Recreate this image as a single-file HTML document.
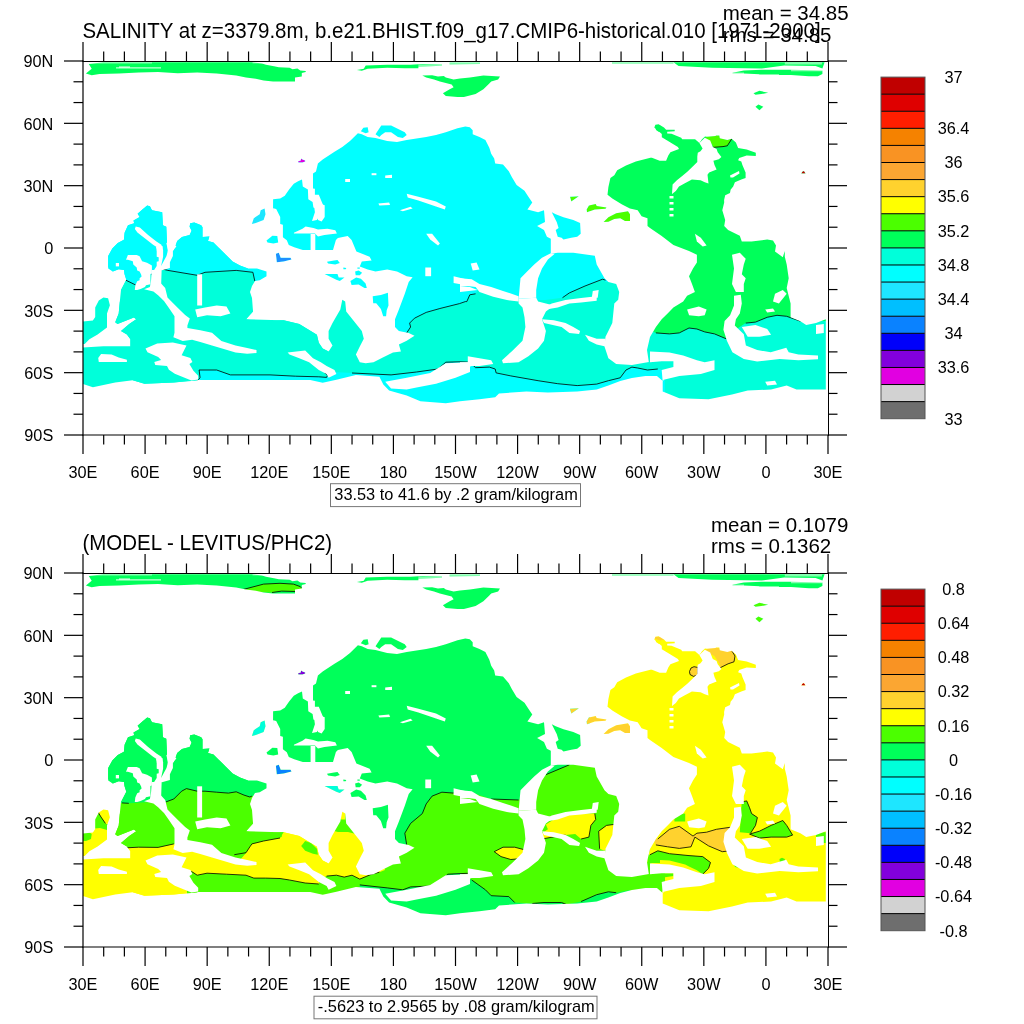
<!DOCTYPE html>
<html><head><meta charset="utf-8"><title>Salinity</title>
<style>html,body{margin:0;padding:0;background:#fff;width:1024px;height:1024px;overflow:hidden}svg{display:block;will-change:transform}</style>
</head><body>
<svg width="1024" height="1024" viewBox="0 0 1024 1024">
<rect width="1024" height="1024" fill="#fff"/>
<defs>
<mask id="ocean" maskUnits="userSpaceOnUse" x="0" y="0" width="1024" height="1024"><rect x="0" y="0" width="1024" height="1024" fill="#000"/><polygon points="85.9,73.6 91.7,68.7 88.8,63.9 103.4,62.3 252.0,62.3 262.0,63.5 266.0,64.8 274.0,66.3 278.8,67.2 289.6,67.7 292.5,69.2 297.4,68.5 300.3,70.6 305.7,71.1 305.7,72.1 301.8,73.1 301.8,76.5 295.0,77.5 295.0,81.4 273.0,81.4 263.6,80.5 255.8,78.7 246.0,77.6 236.2,75.5 216.7,73.6 197.2,72.6 177.7,73.2 158.0,72.0 138.6,72.6 119.0,73.6 99.5,74.0 91.7,75.2" fill="#fff"/><polygon points="356.9,70.1 363.8,68.7 365.7,65.4 387.2,64.8 410.6,64.8 422.3,63.9 441.9,64.2 441.9,65.8 418.4,66.8 418.4,68.2 404.8,68.2 387.2,67.8 367.7,68.7 361.8,70.7" fill="#fff"/><polygon points="449.7,62.5 480.0,62.5 480.0,64.0 449.7,64.5" fill="#fff"/><polygon points="422.3,75.6 432.1,75.2 438.0,76.6 443.8,76.0 445.8,77.5 453.6,79.5 460.0,78.5 470.0,77.5 483.4,75.6 500.0,76.6 498.1,79.5 491.2,81.4 489.3,83.4 483.4,89.2 475.6,94.1 463.9,97.0 457.5,97.0 445.8,96.1 442.9,93.2 449.7,89.2 453.6,87.3 451.6,84.4 439.9,81.4 434.0,79.5 426.2,77.5" fill="#fff"/><polygon points="673.4,62.3 824.6,62.3 822.4,68.4 815.6,66.1 784.2,65.5 761.7,68.6 712.3,67.7 678.6,66.1" fill="#fff"/><polygon points="732.5,72.8 743.8,70.6 761.7,69.8 791.0,69.8 822.4,70.6 822.4,74.0 817.9,76.2 808.9,76.2 791.0,75.1 759.5,75.1 759.5,74.2 743.8,73.6 732.5,73.6" fill="#fff"/><polygon points="612.0,62.2 673.4,62.2 673.4,63.4 612.0,63.4" fill="#fff"/><polygon points="753.5,93.2 759.4,90.8 768.2,92.8 761.3,94.1 755.5,94.7" fill="#fff"/><polygon points="755.5,106.8 758.4,104.5 763.3,106.8 759.4,110.3" fill="#fff"/><polygon points="273.0,214.0 273.1,199.3 280.2,198.5 284.8,195.8 289.1,189.5 293.8,183.7 298.1,181.3 302.0,179.4 302.8,186.4 307.9,189.5 308.3,199.3 312.6,202.0 313.4,207.5 317.7,209.1 318.0,220.0 321.6,221.6 324.7,217.0 324.7,205.2 320.0,203.6 314.9,199.7 314.9,188.8 313.0,188.4 313.0,173.5 316.0,171.6 317.9,163.5 322.7,159.6 334.5,151.8 342.3,146.9 350.0,141.0 357.9,133.2 361.8,134.2 367.7,137.1 375.5,138.1 387.2,141.0 397.0,142.0 406.7,140.0 426.2,137.1 436.0,135.1 445.8,132.2 457.5,128.3 465.3,126.4 469.8,127.3 472.7,130.3 472.7,134.2 479.5,137.1 485.4,140.0 489.3,147.8 491.2,153.7 494.2,158.6 495.2,163.5 503.0,164.4 508.8,171.3 511.8,177.1 516.6,185.0 524.5,190.8 528.4,196.7 532.3,202.5 527.4,209.4 538.1,212.3 544.0,210.3 545.0,222.0 537.1,226.0 544.0,229.9 546.9,236.7 550.8,238.7 550.8,253.8 557.7,252.8 573.3,252.8 594.8,255.7 596.7,264.5 604.5,278.2 608.4,282.1 616.2,284.0 619.2,291.9 618.2,299.7 614.3,303.6 612.3,323.1 608.4,330.9 605.5,336.8 604.5,346.6 608.4,358.3 616.2,364.1 631.9,365.1 647.5,362.2 661.2,360.2 663.0,372.0 660.0,376.0 645.5,376.0 631.9,378.0 620.2,381.0 608.4,385.6 596.7,389.5 577.2,391.5 547.9,392.5 526.4,391.5 499.0,393.4 495.2,397.3 479.5,399.3 460.0,401.2 445.8,403.2 420.4,401.2 406.7,395.4 389.1,390.5 383.3,384.6 379.4,376.8 355.9,374.9 336.4,379.8 322.7,382.7 309.1,379.8 289.5,379.8 270.0,379.8 246.0,379.8 228.4,376.8 216.7,375.9 200.1,377.8 197.2,380.5 173.8,382.6 144.5,383.8 132.7,380.2 115.2,382.6 92.9,387.3 83.0,384.0 83.0,347.4 103.4,346.3 130.4,346.3 130.4,339.2 126.9,334.5 121.0,331.0 129.2,324.0 136.2,319.3 133.9,317.5 117.5,324.0 115.2,322.2 118.7,313.4 119.8,301.7 121.0,290.0 126.3,279.8 124.5,274.0 124.0,269.9 118.7,269.3 112.8,271.6 108.1,267.0 108.2,256.0 112.3,248.5 117.8,243.1 123.9,239.7 124.6,232.8 128.0,225.3 134.2,223.2 133.5,220.5 139.7,217.1 137.6,213.7 142.4,209.6 147.2,205.5 149.9,206.2 152.0,210.3 162.2,212.3 162.9,225.3 166.3,226.7 167.0,242.4 167.7,252.0 168.4,252.0 173.8,250.6 177.2,241.0 182.0,236.9 189.6,234.9 191.6,230.8 189.6,226.7 190.2,223.2 194.3,222.6 201.2,225.3 202.5,227.3 202.5,236.9 209.4,236.6 208.0,241.0 213.5,242.4 219.0,247.9 225.8,254.7 232.6,261.5 240.0,265.6 248.0,268.5 257.0,268.5 266.5,271.4 266.5,276.2 259.7,280.2 255.0,281.1 252.0,286.0 250.0,292.0 252.0,298.0 253.0,311.4 246.0,319.2 256.0,321.2 268.0,321.2 280.0,320.2 283.7,320.2 299.3,324.1 316.9,334.8 318.8,342.7 322.7,348.5 328.6,351.4 332.5,345.6 328.6,338.8 328.6,331.0 332.5,323.1 340.3,309.5 342.3,299.7 345.2,301.6 346.2,311.4 354.0,321.2 361.8,331.0 363.8,338.8 359.8,346.6 355.9,354.4 359.8,362.2 365.7,363.2 373.5,362.2 383.3,357.3 393.0,352.4 400.9,351.4 398.9,344.6 406.7,340.7 414.5,335.8 408.7,332.9 398.9,330.9 395.0,327.0 395.0,319.2 398.9,309.5 404.8,293.8 408.7,282.1 412.6,277.2 406.7,276.2 397.0,271.4 387.2,269.4 375.5,271.4 367.7,269.4 359.8,266.5 361.8,261.6 371.6,260.6 369.6,256.7 356.4,251.6 351.6,239.9 347.7,236.0 337.9,238.0 335.9,239.9 333.0,250.0 320.0,250.0 302.8,250.0 294.2,247.3 288.8,245.0 286.8,240.3 282.9,237.2 282.9,224.7 280.2,223.9 280.2,216.9 276.2,209.0 273.1,208.3" fill="#fff"/><polygon points="108.2,268.4 108.2,256.0 112.3,248.5 117.8,243.1 123.9,239.7 124.6,232.8 128.0,225.3 134.2,223.2 133.5,220.5 139.7,217.1 137.6,213.7 142.4,209.6 147.2,205.5 149.9,206.2 152.0,210.3 162.2,212.3 162.9,225.3 166.3,226.7 167.0,242.4 167.7,252.0 168.4,252.0 173.8,250.6 177.2,241.0 182.0,236.9 189.6,234.9 191.6,230.8 189.6,226.7 190.2,223.2 194.3,222.6 201.2,225.3 202.5,227.3 202.5,236.9 209.4,236.6 208.0,241.0 213.5,242.4 219.0,247.9 225.8,254.7 232.6,261.5 240.0,265.6 248.0,268.5 248.0,300.0 200.0,300.0 150.0,300.0 121.0,300.0 121.0,290.0 126.3,279.8 124.5,274.0 124.0,269.9 118.7,269.3 112.8,271.6" fill="#fff"/><polygon points="95.2,307.6 98.8,300.5 103.4,297.6 108.1,298.2 109.9,305.2 107.0,313.4 107.0,327.5 97.6,334.5 89.4,339.2 84.7,343.9 83.0,344.0 83.0,321.6 92.9,320.5 95.2,317.0" fill="#fff"/><polygon points="121.0,300.0 248.0,300.0 253.0,311.4 246.0,319.2 280.0,320.2 283.7,320.2 299.3,324.1 316.9,334.8 318.8,342.7 322.7,348.5 328.6,351.4 328.6,380.0 197.0,380.0 173.8,382.6 144.5,383.8 132.7,380.2 130.4,346.3 130.4,339.2 126.9,334.5 121.0,331.0 129.2,324.0 136.2,319.3 133.9,317.5 117.5,324.0 115.2,322.2 118.7,313.4 119.8,301.7" fill="#fff"/><polygon points="251.9,224.0 253.8,218.2 259.7,214.2 260.7,210.3 264.6,208.4 265.5,214.2 263.6,220.1 255.8,223.0" fill="#fff"/><polygon points="266.5,240.6 272.4,235.7 277.3,236.1 278.2,242.6 273.4,243.5 267.5,242.6" fill="#fff"/><polygon points="275.9,253.8 278.8,252.8 280.7,257.7 290.5,257.7 291.5,259.6 283.7,261.6 276.8,262.2" fill="#fff"/><polygon points="551.8,212.3 555.7,214.2 563.5,217.2 573.3,220.1 580.1,223.0 580.7,233.8 577.2,236.7 571.3,237.7 563.5,239.6 561.6,237.7 557.7,236.7 555.7,229.9 558.6,228.0 556.7,222.1 553.8,216.2" fill="#fff"/><polygon points="570.0,196.7 578.8,196.3 571.3,201.6" fill="#fff"/><polygon points="586.6,209.4 588.9,205.5 595.7,204.1 596.7,206.0 606.5,207.4 605.5,208.8 594.8,209.4 587.0,212.3" fill="#fff"/><polygon points="603.6,222.0 608.4,217.2 616.2,213.3 628.0,211.3 630.0,214.3 630.0,221.1 625.0,221.1 620.2,218.2 614.3,219.1 608.4,221.7" fill="#fff"/><polygon points="655.3,126.4 660.0,125.4 663.0,128.5 662.0,131.0 659.0,132.0 656.0,130.0" fill="#fff"/><polygon points="650.0,157.1 659.7,160.8 666.1,160.8 668.3,155.4 670.4,152.2 679.0,149.0 677.9,146.9 667.2,140.4 661.8,137.2 661.8,134.0 654.3,127.5 655.4,124.8 658.6,124.3 664.0,127.5 666.1,129.7 674.7,129.7 674.7,131.3 667.2,131.8 667.2,133.4 671.5,133.8 681.2,137.7 682.2,139.3 695.1,139.3 699.4,143.1 702.0,139.3 705.0,136.5 706.9,136.7 715.5,136.1 716.1,135.6 719.3,135.6 719.8,138.3 724.1,139.3 727.3,139.9 731.6,138.8 735.9,142.6 738.1,147.9 746.7,149.5 755.8,152.8 755.8,156.0 746.7,155.4 739.2,158.1 738.1,160.3 741.3,161.4 742.4,165.1 745.6,172.6 745.6,178.0 741.3,179.6 734.9,182.3 733.2,186.6 730.6,189.8 730.0,193.0 725.2,195.2 724.1,200.0 724.2,202.5 722.3,210.3 725.2,220.1 724.2,226.0 728.1,229.9 739.8,235.7 741.8,241.6 751.6,241.6 767.2,239.6 773.0,240.6 776.0,245.5 775.0,251.4 782.8,257.2 784.8,250.9 784.8,256.7 786.7,264.5 788.7,278.2 786.7,288.0 790.6,303.6 790.6,317.3 800.4,321.2 806.2,325.1 816.0,323.1 825.8,319.2 825.8,389.5 796.5,389.5 786.7,385.6 771.1,389.5 747.7,390.5 732.0,394.4 708.6,399.3 679.3,398.3 662.7,391.5 662.7,381.0 650.0,370.0 647.0,350.0 650.0,337.0 655.9,327.0 661.7,319.2 667.6,313.4 673.4,307.5 683.2,301.6 687.1,295.8 694.9,291.9 692.0,284.0 689.0,276.2 693.0,268.4 696.9,262.5 696.9,254.8 689.0,250.9 673.4,245.0 661.7,236.0 650.0,228.0 647.5,226.0 647.5,218.2 641.6,216.2 637.7,210.3 629.9,208.4 622.1,204.5 612.3,198.6 607.5,194.7 608.4,186.9 610.4,178.1 614.3,175.2 617.2,170.3 626.0,165.4 635.8,161.5 651.4,157.6" fill="#fff"/><polygon points="360.8,131.2 363.4,127.7 367.7,127.3 368.6,132.2 365.7,133.2" fill="#fff"/><polygon points="375.5,134.2 381.3,125.4 391.1,125.4 404.8,132.2 406.7,135.1 402.8,138.1 397.9,137.1 391.1,132.2 385.2,132.2 381.3,135.1 379.4,137.1" fill="#fff"/><polygon points="298.3,162.5 298.3,161.0 300.5,160.8 301.2,158.6 302.5,159.5 305.2,160.6 305.2,161.6 302.5,162.5" fill="#fff"/><polygon points="801.2,173.6 802.5,171.4 804.0,171.1 805.6,173.6" fill="#fff"/><polygon points="372.7,296.2 380.9,295.1 387.9,292.7 388.5,305.6 386.7,310.3 386.1,316.2 383.2,316.2 380.9,309.1 376.2,303.3 373.2,303.3" fill="#fff"/><polygon points="324.6,274.0 337.5,274.0 338.7,277.5 344.5,277.5 339.8,281.0 336.3,279.8 329.3,276.3" fill="#fff"/><polygon points="350.4,281.0 356.2,277.5 360.9,278.7 365.6,283.4 366.8,288.0 364.5,288.0 358.6,284.5 351.6,285.1" fill="#fff"/><polygon points="355.1,271.6 358.6,270.5 362.1,272.8 359.8,275.2 355.7,275.2" fill="#fff"/><polygon points="327.0,261.7 334.0,260.5 337.5,259.9 339.8,262.9 335.2,264.6 328.1,263.4" fill="#fff"/><polygon points="343.4,267.5 346.3,268.1 345.7,269.3 343.4,269.3" fill="#fff"/><polygon points="357.4,267.5 359.8,267.5 359.8,268.7 357.4,268.7" fill="#fff"/><polygon points="699.4,143.1 702.6,148.5 700.5,151.2 697.8,152.8 697.3,156.5 697.3,161.9 693.0,166.2 687.6,171.6 682.2,175.9 676.9,180.2 672.6,184.5 672.0,194.1 675.8,190.9 679.0,186.6 684.4,183.4 691.9,179.6 700.5,180.2 704.8,182.3 708.5,183.4 707.5,174.8 709.1,172.6 716.6,169.4 714.5,165.1 713.4,160.8 718.8,159.2 721.4,157.1 717.7,152.2 716.6,149.0 712.8,146.9 710.2,140.4 704.8,137.7" fill="#000"/><polygon points="730.0,175.5 739.0,171.0 739.5,173.5 733.0,177.5 730.5,177.5" fill="#000"/><polygon points="669.5,196.0 673.5,196.0 673.5,198.5 669.5,198.5" fill="#000"/><polygon points="669.5,202.0 673.5,202.0 673.5,204.5 669.5,204.5" fill="#000"/><polygon points="669.5,208.0 673.5,208.0 673.5,210.5 669.5,210.5" fill="#000"/><polygon points="669.5,214.0 673.5,214.0 673.5,216.5 669.5,216.5" fill="#000"/><polygon points="694.9,233.8 700.8,237.7 706.6,245.5 702.7,246.5 696.9,241.6" fill="#000"/><polygon points="732.0,254.8 739.8,252.8 745.7,258.7 743.8,264.5 741.8,274.3 745.7,278.2 743.8,284.1 743.8,291.9 735.9,291.9 732.0,284.1 734.0,268.4" fill="#000"/><polygon points="734.0,295.8 740.8,294.8 741.8,303.6 739.8,313.4 735.9,319.2 734.8,325.5 743.8,334.3 745.9,345.6 757.2,350.1 770.7,352.2 786.3,347.7 788.7,352.2 798.4,354.4 818.0,355.4 818.0,359.3 798.4,360.2 779.7,359.1 757.2,361.4 743.8,359.1 732.4,352.2 727.0,341.1 723.4,329.8 724.6,321.0 730.1,315.3 734.0,305.5" fill="#000"/><polygon points="687.1,309.5 698.8,306.5 706.6,309.5 704.7,315.3 698.8,316.3 689.1,315.3" fill="#000"/><polygon points="775.0,293.8 782.8,289.9 786.7,293.8 778.9,303.6 773.0,301.6" fill="#000"/><polygon points="765.2,309.5 773.0,308.5 775.0,311.4 767.2,312.4" fill="#000"/><polygon points="741.8,327.0 755.5,325.1 767.2,329.0 771.1,334.8 759.4,336.8 747.7,336.8" fill="#000"/><polygon points="650.0,351.4 669.5,352.4 683.2,355.4 696.9,360.2 704.7,362.2 714.5,360.2 714.5,370.0 700.8,373.9 679.3,375.9 663.7,379.8 662.7,381.7 661.7,370.0 673.4,367.1 673.4,361.2 661.7,361.2 650.0,362.2" fill="#000"/><polygon points="765.2,381.7 775.0,380.7 777.0,384.6 767.2,385.6" fill="#000"/><polygon points="816.0,325.1 823.8,324.1 823.8,332.9 816.0,333.9" fill="#000"/><polygon points="550.8,253.2 554.7,253.8 547.9,259.6 542.0,268.4 538.1,278.2 536.2,289.9 536.2,297.7 518.6,298.7 519.6,288.0 520.5,278.2 526.4,272.3 534.2,264.5 542.0,257.7" fill="#000"/><polygon points="460.0,278.2 471.7,279.2 479.5,284.1 491.2,287.0 503.0,290.9 518.6,296.2 518.6,301.6 506.9,300.1 493.2,296.8 479.5,291.9 475.6,287.0 467.8,286.0 460.0,286.0" fill="#000"/><polygon points="518.6,298.7 536.2,297.7 538.1,301.6 545.9,303.6 553.8,305.5 545.9,311.4 542.0,319.2 545.9,330.9 544.0,340.7 538.1,348.5 528.4,356.3 518.6,362.2 503.0,363.2 502.0,360.2 512.7,350.5 522.5,340.7 525.4,327.0 524.5,317.3 522.5,307.5 518.6,303.6" fill="#000"/><polygon points="545.9,309.5 557.7,307.5 569.4,303.6 581.1,302.6 596.7,300.7 596.7,296.2 581.1,298.1 565.5,300.1 551.8,303.6 544.0,307.5" fill="#000"/><polygon points="542.0,319.2 553.8,320.2 565.5,323.1 573.3,327.0 580.1,330.9 579.1,333.9 569.4,332.9 561.6,327.0 544.0,323.1" fill="#000"/><polygon points="467.8,356.3 479.5,358.3 491.2,360.2 493.2,364.1 479.5,366.1 471.7,366.1 460.0,370.0 460.0,362.2 467.8,362.2" fill="#000"/><polygon points="470.7,263.6 476.6,262.6 479.5,269.4 472.7,270.4" fill="#000"/><polygon points="592.8,290.9 598.7,289.9 597.7,297.7 591.8,297.7" fill="#000"/><polygon points="585.0,334.8 596.7,338.8 605.5,338.8 605.5,346.6 596.7,344.6 588.9,340.7" fill="#000"/><polygon points="460.0,286.0 469.8,287.0 477.6,289.9 460.0,291.9" fill="#000"/><polygon points="287.6,352.4 305.2,350.5 313.0,358.3 320.8,362.2 326.6,366.1 334.5,370.0 336.4,373.9 328.6,377.8 326.6,373.9 318.8,370.0 309.1,362.2 299.3,358.3 289.5,354.4" fill="#000"/><polygon points="385.2,381.7 406.7,377.8 430.2,372.9 445.8,363.2 470.0,362.2 470.0,372.0 455.5,377.8 436.0,383.7 416.5,387.6 406.7,389.5 391.1,388.6" fill="#000"/><polygon points="425.3,267.5 431.1,267.5 431.1,276.2 425.3,276.2" fill="#000"/><polygon points="453.6,276.2 470.0,280.2 470.0,286.0 453.6,283.1" fill="#000"/><polygon points="145.5,348.4 157.2,343.5 172.8,342.5 186.5,345.4 183.6,351.3 181.6,355.2 190.4,358.1 192.4,362.0 189.4,364.0 193.4,370.8 198.2,375.7 198.2,379.6 191.4,380.6 184.6,377.7 174.8,373.8 168.9,369.8 167.0,365.9 155.3,365.0 154.3,362.0 161.1,360.1 158.2,357.1 147.5,352.3" fill="#000"/><polygon points="98.2,358.0 101.1,353.9 111.6,354.5 118.7,357.4 126.9,359.7 126.9,362.1 98.8,362.1" fill="#000"/><polygon points="151.9,270.0 161.1,270.0 161.6,270.5 161.1,283.4 165.2,288.1 167.5,297.5 173.4,303.4 179.2,309.2 185.1,315.1 189.8,318.6 187.4,325.6 187.4,328.0 200.3,330.3 212.0,332.7 221.4,340.9 235.5,345.5 247.2,347.9 256.5,350.0 256.5,353.0 247.2,353.8 235.5,352.6 223.8,349.0 212.0,345.5 200.3,342.0 192.1,339.7 182.7,340.9 173.4,337.3 174.5,332.7 174.5,316.2 169.8,309.2 164.0,301.0 158.1,295.2 153.4,291.6 144.1,289.3 149.9,287.0 151.1,280.0" fill="#000"/><polygon points="197.2,274.3 202.1,274.3 202.1,305.5 197.2,305.5" fill="#000"/><polygon points="195.2,309.5 205.0,307.5 216.7,305.5 226.5,306.5 230.4,313.4 220.6,316.3 207.0,315.3 197.2,317.3" fill="#000"/><polygon points="135.7,226.6 139.8,227.4 148.1,234.9 156.4,241.5 161.4,244.8 162.3,248.1 158.1,248.1 153.1,244.8 144.8,238.2 137.4,232.4 134.9,229.0" fill="#000"/><polygon points="127.9,254.9 136.7,254.9 139.6,256.3 142.1,261.2 147.0,262.7 151.9,265.6 151.9,273.4 150.4,273.9 150.4,284.2 146.0,285.2 145.0,287.1 140.6,289.1 137.2,290.0 134.8,290.0 135.3,285.6 137.2,281.2 139.6,280.3 139.6,278.3 141.6,276.4 141.1,274.4 139.6,271.5 137.2,270.5 136.7,267.6 133.3,264.6 132.8,261.2 127.9,259.8 126.0,259.8" fill="#000"/><polygon points="156.7,250.0 163.1,250.0 163.1,256.8 161.1,266.1 163.1,262.2 166.5,255.9 168.0,250.0 172.9,250.0 172.9,256.0 169.9,262.2 169.9,268.0 161.1,270.5 161.1,290.0 151.9,290.0 151.9,273.4 156.7,266.1 156.7,261.7 158.7,261.2 158.7,257.3 156.7,256.8" fill="#000"/><polygon points="166.4,243.2 170.0,240.0 176.4,246.5 172.9,250.5 168.0,250.5" fill="#000"/><polygon points="156.0,247.0 162.5,246.0 163.1,250.5 156.7,250.5" fill="#000"/><polygon points="115.8,263.0 119.0,263.0 119.0,266.4 115.8,266.4" fill="#000"/><polygon points="406.7,193.7 418.4,196.7 436.0,201.6 445.8,206.4 444.8,209.4 436.0,206.4 418.4,200.6 407.7,197.6" fill="#000"/><polygon points="399.9,210.3 410.6,206.8 412.6,208.4 402.8,211.3" fill="#000"/><polygon points="378.4,203.5 389.1,202.5 390.1,204.9 379.4,205.5" fill="#000"/><polygon points="426.2,233.8 432.1,233.8 439.9,243.5 438.0,245.5 430.2,239.6" fill="#000"/><polygon points="311.0,194.7 318.8,194.7 323.7,206.4 320.8,214.2 316.9,220.1 312.0,221.1 314.9,212.3 313.9,204.5" fill="#000"/><polygon points="293.9,232.7 302.5,228.8 305.6,226.4 313.4,228.0 318.0,229.5 327.5,228.8 335.3,230.3 336.9,233.4 330.6,234.2 324.4,234.9 318.0,236.6 315.0,233.4 307.2,233.4 293.9,233.4" fill="#000"/><polygon points="310.6,234.0 315.3,234.0 315.3,250.0 310.6,250.0" fill="#000"/><polygon points="345.2,179.0 350.0,179.0 350.0,182.0 345.2,182.0" fill="#000"/><polygon points="371.6,173.2 376.4,173.2 376.4,175.2 371.6,175.2" fill="#000"/><polygon points="385.2,175.5 392.0,174.8 392.0,178.1 385.2,178.1" fill="#000"/></mask>
</defs>
<g mask="url(#ocean)"><polygon points="83.0,61.0 828.0,61.0 828.0,435.0 83.0,435.0" fill="#00FFDA"/><polygon points="83.0,115.0 635.0,115.0 635.0,282.0 605.5,282.0 602.6,279.2 585.0,286.0 569.4,292.9 562.5,297.7 545.0,300.0 518.6,300.0 499.0,292.0 479.5,287.0 475.6,293.8 469.8,294.8 466.8,301.6 465.3,301.6 459.5,303.6 439.9,308.5 426.2,312.4 414.5,318.2 409.6,323.1 410.6,327.0 406.7,332.9 395.0,335.0 390.0,318.0 372.0,315.0 366.0,300.0 350.0,293.0 330.0,285.0 300.0,283.0 254.8,281.1 252.9,272.3 236.2,270.4 205.0,272.3 197.2,275.3 167.9,270.4 160.0,268.4 151.3,274.3 145.0,278.0 135.7,285.7 125.9,280.2 110.0,278.0 83.0,278.0" fill="#00FFFF"/><polygon points="197.2,380.7 200.1,377.8 199.1,370.0 216.7,370.0 230.4,374.9 270.0,374.9 295.4,376.2 318.8,376.8 326.6,377.4 327.6,374.9 324.7,373.0 334.5,372.0 352.0,373.0 391.1,374.9 416.5,372.0 438.0,369.0 445.8,362.2 460.0,361.8 469.8,362.2 475.6,367.7 489.3,367.1 495.2,369.0 496.1,372.9 510.8,375.9 538.1,380.7 557.7,383.7 577.2,385.6 596.7,384.1 608.4,380.7 620.2,377.8 626.0,370.0 631.9,367.1 637.7,368.0 647.5,370.0 660.0,369.0 665.0,372.0 665.0,420.0 197.0,420.0" fill="#00FFFF"/><polygon points="83.0,61.0 828.0,61.0 828.0,115.0 83.0,115.0" fill="#00FF5A"/><polygon points="590.0,115.0 828.0,115.0 828.0,321.0 800.4,321.2 786.7,316.3 777.0,315.3 767.2,317.3 755.5,322.1 745.7,323.1 735.0,330.0 726.2,338.8 714.5,333.9 704.7,331.9 696.9,329.0 689.0,328.0 679.3,332.9 669.5,333.9 655.9,332.9 650.0,330.0 640.0,300.0 625.0,260.0 610.0,240.0 590.0,240.0" fill="#00FF5A"/><polygon points="570.0,196.7 578.8,196.3 571.3,201.6" fill="#4BFF00"/><polygon points="586.6,209.4 588.9,205.5 595.7,204.1 596.7,206.0 606.5,207.4 605.5,208.8 594.8,209.4 587.0,212.3" fill="#4BFF00"/><polygon points="603.6,222.0 608.4,217.2 616.2,213.3 628.0,211.3 630.0,214.3 630.0,221.1 625.0,221.1 620.2,218.2 614.3,219.1 608.4,221.7" fill="#4BFF00"/><polygon points="705.3,137.7 706.9,136.7 715.5,136.1 716.1,135.6 719.3,135.6 719.8,138.3 724.1,139.3 727.3,139.9 731.6,139.1 727.3,145.8 723.0,146.6 713.4,147.4 712.3,144.7 710.2,141.5" fill="#4BFF00"/><polygon points="251.9,224.0 253.8,218.2 259.7,214.2 260.7,210.3 264.6,208.4 265.5,214.2 263.6,220.1 255.8,223.0" fill="#1EE6FF"/><polygon points="275.9,253.8 278.8,252.8 280.7,257.7 290.5,257.7 291.5,259.6 283.7,261.6 276.8,262.2" fill="#1E90FF"/><polygon points="298.3,162.5 298.3,161.0 300.5,160.8 301.2,158.6 302.5,159.5 305.2,160.6 305.2,161.6 302.5,162.5" fill="#E100E1"/><polygon points="801.2,173.6 802.5,171.4 804.0,171.1 805.6,173.6" fill="#C00000"/><polygon points="116.0,67.2 161.0,67.2 161.0,68.4 116.0,68.4" fill="#fff" fill-opacity="0.75"/><polygon points="119.0,66.5 130.0,66.5 130.0,67.6 119.0,67.6" fill="#fff" fill-opacity="0.9"/><polygon points="89.0,62.3 152.0,62.3 152.0,63.4 89.0,63.4" fill="#fff" fill-opacity="0.5"/><polygon points="252.5,62.2 281.8,62.2 281.8,63.4 252.5,63.4" fill="#fff" fill-opacity="0.45"/><polygon points="784.8,62.3 821.9,62.3 821.9,64.6 784.8,64.6" fill="#fff" fill-opacity="0.5"/><polygon points="759.4,74.0 779.0,74.0 779.0,75.4 759.4,75.4" fill="#fff" fill-opacity="0.5"/><polygon points="791.0,69.5 822.4,69.5 822.4,71.3 791.0,71.3" fill="#fff" fill-opacity="0.5"/><polygon points="732.0,72.5 744.0,72.5 744.0,74.0 732.0,74.0" fill="#fff" fill-opacity="0.5"/><polygon points="449.7,62.3 480.0,62.3 480.0,64.8 449.7,64.8" fill="#fff" fill-opacity="0.5"/><polygon points="612.0,62.0 673.4,62.0 673.4,63.6 612.0,63.6" fill="#fff" fill-opacity="0.5"/><polygon points="418.4,64.5 441.9,64.0 441.9,66.0 418.4,66.8" fill="#fff" fill-opacity="0.5"/><polyline points="125.9,280.2 135.7,285.0" fill="none" stroke="#000" stroke-width="0.8"/><polyline points="151.3,274.3 160.0,268.4 167.9,270.4 197.2,275.3 205.0,272.3 236.2,270.4 252.9,272.3 254.8,281.1" fill="none" stroke="#000" stroke-width="0.8"/><polyline points="197.2,380.7 200.1,377.8 199.1,370.0 216.7,370.0 230.4,374.9 270.0,374.9 295.4,376.2 318.8,376.8 326.6,377.4 327.6,374.9 324.7,373.0" fill="none" stroke="#000" stroke-width="0.8"/><polyline points="352.0,373.0 391.1,374.9 416.5,372.0 438.0,369.0 445.8,362.2 460.0,361.8 469.8,362.2 475.6,367.7 489.3,367.1 495.2,369.0 496.1,372.9 510.8,375.9 538.1,380.7 557.7,383.7 577.2,385.6 596.7,384.1 608.4,380.7 620.2,377.8 626.0,370.0 631.9,367.1 637.7,368.0 647.5,370.0 657.8,369.0" fill="none" stroke="#000" stroke-width="0.8"/><polyline points="406.7,332.9 410.6,327.0 409.6,323.1 414.5,318.2 426.2,312.4 439.9,308.5 459.5,303.6 465.3,301.6 466.8,301.6 469.8,294.8 475.6,293.8" fill="none" stroke="#000" stroke-width="0.8"/><polyline points="562.5,297.7 569.4,292.9 585.0,286.0 602.6,279.2 605.5,280.2" fill="none" stroke="#000" stroke-width="0.8"/><polyline points="655.9,332.9 669.5,333.9 679.3,332.9 689.0,328.0 696.9,329.0 704.7,331.9 714.5,333.9 726.2,338.8" fill="none" stroke="#000" stroke-width="0.8"/><polyline points="745.7,323.1 755.5,322.1 767.2,317.3 777.0,315.3 786.7,316.3 800.4,321.2" fill="none" stroke="#000" stroke-width="0.8"/><polyline points="712.3,147.4 723.0,146.6 727.3,145.8 731.6,139.1" fill="none" stroke="#000" stroke-width="0.8"/></g>
<g transform="translate(0,512)"><g mask="url(#ocean)"><polygon points="83.0,61.0 828.0,61.0 828.0,435.0 83.0,435.0" fill="#4BFF00"/><polygon points="83.0,61.0 828.0,61.0 828.0,115.0 640.0,115.0 640.0,250.0 569.4,252.8 546.0,262.6 540.0,270.0 518.6,288.0 491.2,287.0 470.0,280.0 455.5,279.2 453.6,281.1 441.9,280.2 432.1,284.1 426.2,291.9 422.3,301.6 410.6,311.4 404.8,321.2 406.7,332.9 395.0,335.0 390.0,318.0 372.0,315.0 366.0,300.0 350.0,293.0 330.0,285.0 300.0,283.0 280.0,284.0 251.9,284.1 249.9,285.0 244.0,283.1 236.2,279.8 228.4,281.1 216.7,280.2 205.0,279.2 197.2,279.2 186.4,276.6 181.6,279.2 173.8,287.0 165.9,289.9 150.0,290.0 128.8,291.3 122.0,290.9 110.0,290.0 83.0,290.0" fill="#00FF5A"/><polygon points="359.8,372.9 387.2,375.9 402.8,377.8 410.6,374.9 434.0,373.9 441.9,368.0 447.7,362.2 460.0,361.0 471.7,368.0 485.4,377.8 491.2,383.7 508.8,384.6 514.7,390.5 532.3,391.5 544.0,390.5 561.6,390.5 566.4,392.5 581.1,389.5 596.7,382.7 608.4,379.8 616.2,380.7 630.0,378.0 630.0,420.0 355.0,420.0" fill="#00FF5A"/><polygon points="83.0,318.0 90.0,317.0 100.0,316.0 107.0,318.0 112.0,322.0 112.0,336.0 126.9,335.8 138.6,335.2 158.1,335.4 173.8,331.9 187.4,330.0 200.3,336.0 212.0,339.0 223.8,345.0 240.0,348.0 246.0,341.0 249.9,334.8 251.9,331.9 263.6,329.0 280.0,326.0 285.0,318.0 330.0,318.0 338.0,320.0 348.0,320.0 356.0,322.0 364.0,326.0 380.0,340.0 385.0,358.0 379.4,360.2 371.6,362.2 359.8,367.1 352.0,363.2 344.2,365.1 336.4,363.2 326.6,364.1 320.0,368.0 318.8,372.0 305.2,371.0 289.5,368.0 280.0,366.5 265.5,366.1 253.8,366.1 246.0,363.2 226.5,362.2 207.0,361.2 197.2,363.2 191.3,359.3 187.0,362.0 187.0,395.0 83.0,395.0" fill="#FFFF00"/><polygon points="99.0,296.0 112.0,296.0 112.0,312.0 106.0,312.0 101.0,305.0 98.0,300.0" fill="#FFFF00"/><polygon points="341.0,299.7 345.2,299.7 345.2,307.5 341.0,307.5" fill="#FFFF00"/><polygon points="83.0,321.0 88.0,319.5 91.7,322.0 91.0,327.0 86.0,329.0 83.0,329.0" fill="#4BFF00"/><polygon points="301.2,333.9 305.2,329.0 311.0,331.0 316.9,336.8 317.9,342.7 313.0,341.7 305.2,338.8" fill="#4BFF00"/><polygon points="270.0,318.0 281.7,318.0 281.7,325.0 270.0,327.0" fill="#4BFF00"/><polygon points="545.9,312.4 561.6,302.6 577.2,301.6 594.8,301.6 595.7,307.5 590.9,313.4 588.9,325.1 581.1,327.0 575.2,322.1 565.5,323.1 557.7,324.1 542.0,327.0 541.0,322.1 547.9,317.3" fill="#FFFF00"/><polygon points="598.7,319.2 606.5,313.4 614.3,312.4 612.3,327.0 608.4,334.8 604.5,338.8 599.6,336.8" fill="#FFFF00"/><polygon points="494.2,339.7 503.0,335.2 514.7,335.2 524.5,337.8 520.5,346.6 510.8,347.5 501.0,344.6" fill="#FFFF00"/><polygon points="590.0,115.0 828.0,115.0 828.0,440.0 662.0,440.0 662.0,380.0 665.0,375.0 665.0,358.0 652.0,352.0 647.0,350.0 650.0,337.0 640.0,300.0 625.0,260.0 610.0,240.0 590.0,240.0" fill="#FFFF00"/><polygon points="650.0,342.7 657.8,338.8 669.5,341.7 689.0,343.6 702.7,344.6 710.5,350.5 708.6,356.3 702.7,362.2 696.9,358.3 689.0,354.4 685.2,352.4 669.5,348.5 650.0,347.5" fill="#4BFF00"/><polygon points="648.0,361.2 673.4,361.2 673.4,364.0 660.0,366.0 648.0,372.0" fill="#4BFF00"/><polygon points="741.8,289.9 746.7,288.9 749.6,295.8 751.6,301.6 757.4,305.5 755.5,313.4 750.6,321.2 739.8,320.2 740.8,303.6" fill="#4BFF00"/><polygon points="749.6,322.1 759.4,319.2 771.1,313.4 782.8,308.5 786.7,313.4 792.6,323.1 786.7,325.1 771.1,325.1 759.4,326.1" fill="#4BFF00"/><polygon points="733.0,348.5 741.8,350.0 741.8,356.3 735.0,355.0" fill="#4BFF00"/><polygon points="779.5,347.0 782.0,345.8 784.8,347.0 785.2,351.0 783.0,353.0 780.0,352.0" fill="#4BFF00"/><polygon points="816.0,320.2 828.0,320.2 828.0,331.0 816.0,331.0" fill="#4BFF00"/><polygon points="674.4,301.6 685.2,301.6 685.2,309.5 674.4,309.5" fill="#4BFF00"/><polygon points="753.5,93.2 759.4,90.8 768.2,92.8 761.3,94.1 755.5,94.7" fill="#4BFF00"/><polygon points="755.5,106.8 758.4,104.5 763.3,106.8 759.4,110.3" fill="#4BFF00"/><polygon points="647.5,342.7 660.0,342.7 660.0,351.0 647.5,351.0" fill="#4BFF00"/><polygon points="653.0,326.0 657.8,327.0 669.5,317.3 679.3,314.3 693.0,324.1 696.9,321.2 706.6,320.2 716.4,317.3 730.1,315.3 730.1,338.8 722.3,339.7 708.6,333.9 694.9,325.1 691.0,334.8 679.3,336.4 667.6,334.8 655.9,332.9" fill="#FFD22E"/><polygon points="570.0,196.7 578.8,196.3 571.3,201.6" fill="#FFD22E"/><polygon points="586.6,209.4 588.9,205.5 595.7,204.1 596.7,206.0 606.5,207.4 605.5,208.8 594.8,209.4 587.0,212.3" fill="#FFD22E"/><polygon points="603.6,222.0 608.4,217.2 616.2,213.3 628.0,211.3 630.0,214.3 630.0,221.1 625.0,221.1 620.2,218.2 614.3,219.1 608.4,221.7" fill="#FFD22E"/><polygon points="654.0,124.4 660.0,124.8 664.6,127.5 660.0,128.5 655.0,127.0" fill="#FFD22E"/><polygon points="705.7,138.1 708.6,136.1 719.3,135.7 720.3,138.1 732.0,139.1 735.0,144.0 734.0,149.8 728.1,151.8 720.3,155.7 719.3,151.8 714.5,144.0 710.5,142.0" fill="#FFD22E"/><polygon points="689.5,159.5 691.0,156.0 694.0,154.7 697.9,155.5 697.9,163.0 693.5,164.4 690.0,162.5" fill="#FFD22E"/><polygon points="243.1,77.5 263.6,72.1 280.0,71.3 293.4,72.1 300.3,74.6 302.2,76.6 306.0,72.0 306.0,78.0 295.4,79.5 281.7,79.1 272.0,80.5 260.0,80.0 243.0,79.0" fill="#4BFF00"/><polygon points="251.9,224.0 253.8,218.2 259.7,214.2 260.7,210.3 264.6,208.4 265.5,214.2 263.6,220.1 255.8,223.0" fill="#00FFDA"/><polygon points="324.6,274.0 337.5,274.0 338.7,277.5 344.5,277.5 339.8,281.0 336.3,279.8 329.3,276.3" fill="#00FFDA"/><polygon points="275.9,253.8 278.8,252.8 280.7,257.7 290.5,257.7 291.5,259.6 283.7,261.6 276.8,262.2" fill="#0A82FF"/><polygon points="298.3,162.5 298.3,161.0 300.5,160.8 301.2,158.6 302.5,159.5 305.2,160.6 305.2,161.6 302.5,162.5" fill="#8200DC"/><polygon points="801.2,173.6 802.5,171.4 804.0,171.1 805.6,173.6" fill="#C00000"/><polygon points="116.0,67.2 161.0,67.2 161.0,68.4 116.0,68.4" fill="#fff" fill-opacity="0.75"/><polygon points="119.0,66.5 130.0,66.5 130.0,67.6 119.0,67.6" fill="#fff" fill-opacity="0.9"/><polygon points="89.0,62.3 152.0,62.3 152.0,63.4 89.0,63.4" fill="#fff" fill-opacity="0.5"/><polygon points="252.5,62.2 281.8,62.2 281.8,63.4 252.5,63.4" fill="#fff" fill-opacity="0.45"/><polygon points="784.8,62.3 821.9,62.3 821.9,64.6 784.8,64.6" fill="#fff" fill-opacity="0.5"/><polygon points="759.4,74.0 779.0,74.0 779.0,75.4 759.4,75.4" fill="#fff" fill-opacity="0.5"/><polygon points="791.0,69.5 822.4,69.5 822.4,71.3 791.0,71.3" fill="#fff" fill-opacity="0.5"/><polygon points="732.0,72.5 744.0,72.5 744.0,74.0 732.0,74.0" fill="#fff" fill-opacity="0.5"/><polygon points="449.7,62.3 480.0,62.3 480.0,64.8 449.7,64.8" fill="#fff" fill-opacity="0.5"/><polygon points="612.0,62.0 673.4,62.0 673.4,63.6 612.0,63.6" fill="#fff" fill-opacity="0.5"/><polygon points="418.4,64.5 441.9,64.0 441.9,66.0 418.4,66.8" fill="#fff" fill-opacity="0.5"/><polyline points="122.0,290.9 128.8,291.3" fill="none" stroke="#000" stroke-width="0.8"/><polyline points="165.9,289.9 173.8,287.0 181.6,279.2 186.4,276.6 197.2,279.2 205.0,279.2 216.7,280.2 228.4,281.1 236.2,279.8 244.0,283.1 249.9,285.0 251.9,284.1" fill="none" stroke="#000" stroke-width="0.8"/><polyline points="126.9,335.8 138.6,335.2 158.1,335.4 173.8,331.9" fill="none" stroke="#000" stroke-width="0.8"/><polyline points="234.3,342.7 246.0,340.7 249.9,334.8 251.9,331.9 263.6,329.0 280.0,326.0" fill="none" stroke="#000" stroke-width="0.8"/><polyline points="191.3,359.3 197.2,363.2 207.0,361.2 226.5,362.2 246.0,363.2 253.8,366.1 265.5,366.1 280.0,366.5 289.5,368.0 305.2,371.0 318.8,372.0" fill="none" stroke="#000" stroke-width="0.8"/><polyline points="406.7,332.9 404.8,321.2 410.6,311.4 422.3,301.6 426.2,291.9 432.1,284.1 441.9,280.2 453.6,281.1 455.5,279.2" fill="none" stroke="#000" stroke-width="0.8"/><polyline points="326.6,364.1 336.4,363.2 344.2,365.1 352.0,363.2 359.8,367.1 371.6,362.2 379.4,360.2" fill="none" stroke="#000" stroke-width="0.8"/><polyline points="359.8,372.9 387.2,375.9 402.8,377.8 410.6,374.9 434.0,373.9 441.9,368.0 447.7,362.2 470.0,361.2" fill="none" stroke="#000" stroke-width="0.8"/><polyline points="471.7,368.0 485.4,377.8 491.2,383.7 508.8,384.6 514.7,390.5" fill="none" stroke="#000" stroke-width="0.8"/><polyline points="532.3,391.5 544.0,390.5 561.6,390.5 566.4,392.5" fill="none" stroke="#000" stroke-width="0.8"/><polyline points="581.1,389.5 596.7,382.7 608.4,379.8 616.2,380.7" fill="none" stroke="#000" stroke-width="0.8"/><polyline points="491.2,287.0 518.6,288.0" fill="none" stroke="#000" stroke-width="0.8"/><polyline points="546.0,262.6 569.4,252.8" fill="none" stroke="#000" stroke-width="0.8"/><polyline points="98.0,300.0 101.0,305.0 105.4,311.4" fill="none" stroke="#000" stroke-width="0.8"/><polyline points="243.1,77.5 263.6,72.1 280.0,71.3 293.4,72.1 300.3,74.6 302.2,76.6" fill="none" stroke="#000" stroke-width="0.8"/><polyline points="272.0,80.5 281.7,79.1 295.4,79.5" fill="none" stroke="#000" stroke-width="0.8"/><polyline points="655.9,332.9 667.6,334.8 679.3,336.4 691.0,334.8 694.9,325.1 708.6,333.9 722.3,339.7 730.1,338.8" fill="none" stroke="#000" stroke-width="0.8"/><polyline points="657.8,327.0 669.5,317.3 679.3,314.3 693.0,324.1 696.9,321.2 706.6,320.2 716.4,317.3 730.1,315.3" fill="none" stroke="#000" stroke-width="0.8"/><polyline points="650.0,342.7 657.8,338.8 669.5,341.7 689.0,343.6 702.7,344.6 710.5,350.5 708.6,356.3 702.7,362.2" fill="none" stroke="#000" stroke-width="0.8"/><polyline points="741.8,289.9 746.7,288.9 749.6,295.8 751.6,301.6 757.4,305.5 755.5,313.4 750.6,321.2" fill="none" stroke="#000" stroke-width="0.8"/><polyline points="749.6,322.1 759.4,319.2 771.1,313.4 782.8,308.5 786.7,313.4 792.6,323.1 786.7,325.1 771.1,325.1 759.4,326.1 749.6,322.1" fill="none" stroke="#000" stroke-width="0.8"/><polyline points="599.6,336.8 598.7,319.2 606.5,313.4 614.3,312.4" fill="none" stroke="#000" stroke-width="0.8"/><polyline points="581.1,327.0 588.9,325.1 590.9,313.4 595.7,307.5 594.8,301.6" fill="none" stroke="#000" stroke-width="0.8"/><polyline points="542.0,327.0 557.7,324.1 565.5,323.1" fill="none" stroke="#000" stroke-width="0.8"/><polyline points="494.2,339.7 503.0,335.2 514.7,335.2 524.5,337.8" fill="none" stroke="#000" stroke-width="0.8"/><polyline points="494.2,339.7 501.0,344.6 510.8,347.5 520.5,346.6" fill="none" stroke="#000" stroke-width="0.8"/><polyline points="720.3,155.7 728.1,151.8 734.0,149.8 735.0,144.0 732.0,139.1" fill="none" stroke="#000" stroke-width="0.8"/><polyline points="689.5,159.5 691.0,156.0 694.0,154.7 697.9,155.5 697.9,163.0 693.5,164.4 690.0,162.5 689.5,159.5" fill="none" stroke="#000" stroke-width="0.8"/></g></g>
<line x1="83" y1="60.5" x2="83" y2="435.6" stroke="#000" stroke-width="1.2"/>
<line x1="828.5" y1="60.5" x2="828.5" y2="435.6" stroke="#000" stroke-width="1"/>
<line x1="82.4" y1="61.5" x2="829" y2="61.5" stroke="#000" stroke-width="1"/>
<line x1="82.4" y1="435" x2="829" y2="435" stroke="#000" stroke-width="1.2"/>
<line x1="83.00" y1="61" x2="83.00" y2="42" stroke="#000" stroke-width="1.2"/>
<line x1="83.00" y1="435" x2="83.00" y2="454" stroke="#000" stroke-width="1.2"/>
<line x1="103.69" y1="61" x2="103.69" y2="51.5" stroke="#000" stroke-width="1.2"/>
<line x1="103.69" y1="435" x2="103.69" y2="444.5" stroke="#000" stroke-width="1.2"/>
<line x1="124.39" y1="61" x2="124.39" y2="51.5" stroke="#000" stroke-width="1.2"/>
<line x1="124.39" y1="435" x2="124.39" y2="444.5" stroke="#000" stroke-width="1.2"/>
<line x1="145.08" y1="61" x2="145.08" y2="42" stroke="#000" stroke-width="1.2"/>
<line x1="145.08" y1="435" x2="145.08" y2="454" stroke="#000" stroke-width="1.2"/>
<line x1="165.78" y1="61" x2="165.78" y2="51.5" stroke="#000" stroke-width="1.2"/>
<line x1="165.78" y1="435" x2="165.78" y2="444.5" stroke="#000" stroke-width="1.2"/>
<line x1="186.47" y1="61" x2="186.47" y2="51.5" stroke="#000" stroke-width="1.2"/>
<line x1="186.47" y1="435" x2="186.47" y2="444.5" stroke="#000" stroke-width="1.2"/>
<line x1="207.17" y1="61" x2="207.17" y2="42" stroke="#000" stroke-width="1.2"/>
<line x1="207.17" y1="435" x2="207.17" y2="454" stroke="#000" stroke-width="1.2"/>
<line x1="227.86" y1="61" x2="227.86" y2="51.5" stroke="#000" stroke-width="1.2"/>
<line x1="227.86" y1="435" x2="227.86" y2="444.5" stroke="#000" stroke-width="1.2"/>
<line x1="248.56" y1="61" x2="248.56" y2="51.5" stroke="#000" stroke-width="1.2"/>
<line x1="248.56" y1="435" x2="248.56" y2="444.5" stroke="#000" stroke-width="1.2"/>
<line x1="269.25" y1="61" x2="269.25" y2="42" stroke="#000" stroke-width="1.2"/>
<line x1="269.25" y1="435" x2="269.25" y2="454" stroke="#000" stroke-width="1.2"/>
<line x1="289.94" y1="61" x2="289.94" y2="51.5" stroke="#000" stroke-width="1.2"/>
<line x1="289.94" y1="435" x2="289.94" y2="444.5" stroke="#000" stroke-width="1.2"/>
<line x1="310.64" y1="61" x2="310.64" y2="51.5" stroke="#000" stroke-width="1.2"/>
<line x1="310.64" y1="435" x2="310.64" y2="444.5" stroke="#000" stroke-width="1.2"/>
<line x1="331.33" y1="61" x2="331.33" y2="42" stroke="#000" stroke-width="1.2"/>
<line x1="331.33" y1="435" x2="331.33" y2="454" stroke="#000" stroke-width="1.2"/>
<line x1="352.03" y1="61" x2="352.03" y2="51.5" stroke="#000" stroke-width="1.2"/>
<line x1="352.03" y1="435" x2="352.03" y2="444.5" stroke="#000" stroke-width="1.2"/>
<line x1="372.72" y1="61" x2="372.72" y2="51.5" stroke="#000" stroke-width="1.2"/>
<line x1="372.72" y1="435" x2="372.72" y2="444.5" stroke="#000" stroke-width="1.2"/>
<line x1="393.42" y1="61" x2="393.42" y2="42" stroke="#000" stroke-width="1.2"/>
<line x1="393.42" y1="435" x2="393.42" y2="454" stroke="#000" stroke-width="1.2"/>
<line x1="414.11" y1="61" x2="414.11" y2="51.5" stroke="#000" stroke-width="1.2"/>
<line x1="414.11" y1="435" x2="414.11" y2="444.5" stroke="#000" stroke-width="1.2"/>
<line x1="434.81" y1="61" x2="434.81" y2="51.5" stroke="#000" stroke-width="1.2"/>
<line x1="434.81" y1="435" x2="434.81" y2="444.5" stroke="#000" stroke-width="1.2"/>
<line x1="455.50" y1="61" x2="455.50" y2="42" stroke="#000" stroke-width="1.2"/>
<line x1="455.50" y1="435" x2="455.50" y2="454" stroke="#000" stroke-width="1.2"/>
<line x1="476.19" y1="61" x2="476.19" y2="51.5" stroke="#000" stroke-width="1.2"/>
<line x1="476.19" y1="435" x2="476.19" y2="444.5" stroke="#000" stroke-width="1.2"/>
<line x1="496.89" y1="61" x2="496.89" y2="51.5" stroke="#000" stroke-width="1.2"/>
<line x1="496.89" y1="435" x2="496.89" y2="444.5" stroke="#000" stroke-width="1.2"/>
<line x1="517.58" y1="61" x2="517.58" y2="42" stroke="#000" stroke-width="1.2"/>
<line x1="517.58" y1="435" x2="517.58" y2="454" stroke="#000" stroke-width="1.2"/>
<line x1="538.28" y1="61" x2="538.28" y2="51.5" stroke="#000" stroke-width="1.2"/>
<line x1="538.28" y1="435" x2="538.28" y2="444.5" stroke="#000" stroke-width="1.2"/>
<line x1="558.97" y1="61" x2="558.97" y2="51.5" stroke="#000" stroke-width="1.2"/>
<line x1="558.97" y1="435" x2="558.97" y2="444.5" stroke="#000" stroke-width="1.2"/>
<line x1="579.67" y1="61" x2="579.67" y2="42" stroke="#000" stroke-width="1.2"/>
<line x1="579.67" y1="435" x2="579.67" y2="454" stroke="#000" stroke-width="1.2"/>
<line x1="600.36" y1="61" x2="600.36" y2="51.5" stroke="#000" stroke-width="1.2"/>
<line x1="600.36" y1="435" x2="600.36" y2="444.5" stroke="#000" stroke-width="1.2"/>
<line x1="621.06" y1="61" x2="621.06" y2="51.5" stroke="#000" stroke-width="1.2"/>
<line x1="621.06" y1="435" x2="621.06" y2="444.5" stroke="#000" stroke-width="1.2"/>
<line x1="641.75" y1="61" x2="641.75" y2="42" stroke="#000" stroke-width="1.2"/>
<line x1="641.75" y1="435" x2="641.75" y2="454" stroke="#000" stroke-width="1.2"/>
<line x1="662.44" y1="61" x2="662.44" y2="51.5" stroke="#000" stroke-width="1.2"/>
<line x1="662.44" y1="435" x2="662.44" y2="444.5" stroke="#000" stroke-width="1.2"/>
<line x1="683.14" y1="61" x2="683.14" y2="51.5" stroke="#000" stroke-width="1.2"/>
<line x1="683.14" y1="435" x2="683.14" y2="444.5" stroke="#000" stroke-width="1.2"/>
<line x1="703.83" y1="61" x2="703.83" y2="42" stroke="#000" stroke-width="1.2"/>
<line x1="703.83" y1="435" x2="703.83" y2="454" stroke="#000" stroke-width="1.2"/>
<line x1="724.53" y1="61" x2="724.53" y2="51.5" stroke="#000" stroke-width="1.2"/>
<line x1="724.53" y1="435" x2="724.53" y2="444.5" stroke="#000" stroke-width="1.2"/>
<line x1="745.22" y1="61" x2="745.22" y2="51.5" stroke="#000" stroke-width="1.2"/>
<line x1="745.22" y1="435" x2="745.22" y2="444.5" stroke="#000" stroke-width="1.2"/>
<line x1="765.92" y1="61" x2="765.92" y2="42" stroke="#000" stroke-width="1.2"/>
<line x1="765.92" y1="435" x2="765.92" y2="454" stroke="#000" stroke-width="1.2"/>
<line x1="786.61" y1="61" x2="786.61" y2="51.5" stroke="#000" stroke-width="1.2"/>
<line x1="786.61" y1="435" x2="786.61" y2="444.5" stroke="#000" stroke-width="1.2"/>
<line x1="807.31" y1="61" x2="807.31" y2="51.5" stroke="#000" stroke-width="1.2"/>
<line x1="807.31" y1="435" x2="807.31" y2="444.5" stroke="#000" stroke-width="1.2"/>
<line x1="828.00" y1="61" x2="828.00" y2="42" stroke="#000" stroke-width="1.2"/>
<line x1="828.00" y1="435" x2="828.00" y2="454" stroke="#000" stroke-width="1.2"/>
<line x1="83" y1="61.00" x2="64" y2="61.00" stroke="#000" stroke-width="1.2"/>
<line x1="828" y1="61.00" x2="847" y2="61.00" stroke="#000" stroke-width="1.2"/>
<line x1="83" y1="81.78" x2="73.5" y2="81.78" stroke="#000" stroke-width="1.2"/>
<line x1="828" y1="81.78" x2="837.5" y2="81.78" stroke="#000" stroke-width="1.2"/>
<line x1="83" y1="102.56" x2="73.5" y2="102.56" stroke="#000" stroke-width="1.2"/>
<line x1="828" y1="102.56" x2="837.5" y2="102.56" stroke="#000" stroke-width="1.2"/>
<line x1="83" y1="123.33" x2="64" y2="123.33" stroke="#000" stroke-width="1.2"/>
<line x1="828" y1="123.33" x2="847" y2="123.33" stroke="#000" stroke-width="1.2"/>
<line x1="83" y1="144.11" x2="73.5" y2="144.11" stroke="#000" stroke-width="1.2"/>
<line x1="828" y1="144.11" x2="837.5" y2="144.11" stroke="#000" stroke-width="1.2"/>
<line x1="83" y1="164.89" x2="73.5" y2="164.89" stroke="#000" stroke-width="1.2"/>
<line x1="828" y1="164.89" x2="837.5" y2="164.89" stroke="#000" stroke-width="1.2"/>
<line x1="83" y1="185.67" x2="64" y2="185.67" stroke="#000" stroke-width="1.2"/>
<line x1="828" y1="185.67" x2="847" y2="185.67" stroke="#000" stroke-width="1.2"/>
<line x1="83" y1="206.44" x2="73.5" y2="206.44" stroke="#000" stroke-width="1.2"/>
<line x1="828" y1="206.44" x2="837.5" y2="206.44" stroke="#000" stroke-width="1.2"/>
<line x1="83" y1="227.22" x2="73.5" y2="227.22" stroke="#000" stroke-width="1.2"/>
<line x1="828" y1="227.22" x2="837.5" y2="227.22" stroke="#000" stroke-width="1.2"/>
<line x1="83" y1="248.00" x2="64" y2="248.00" stroke="#000" stroke-width="1.2"/>
<line x1="828" y1="248.00" x2="847" y2="248.00" stroke="#000" stroke-width="1.2"/>
<line x1="83" y1="268.78" x2="73.5" y2="268.78" stroke="#000" stroke-width="1.2"/>
<line x1="828" y1="268.78" x2="837.5" y2="268.78" stroke="#000" stroke-width="1.2"/>
<line x1="83" y1="289.56" x2="73.5" y2="289.56" stroke="#000" stroke-width="1.2"/>
<line x1="828" y1="289.56" x2="837.5" y2="289.56" stroke="#000" stroke-width="1.2"/>
<line x1="83" y1="310.33" x2="64" y2="310.33" stroke="#000" stroke-width="1.2"/>
<line x1="828" y1="310.33" x2="847" y2="310.33" stroke="#000" stroke-width="1.2"/>
<line x1="83" y1="331.11" x2="73.5" y2="331.11" stroke="#000" stroke-width="1.2"/>
<line x1="828" y1="331.11" x2="837.5" y2="331.11" stroke="#000" stroke-width="1.2"/>
<line x1="83" y1="351.89" x2="73.5" y2="351.89" stroke="#000" stroke-width="1.2"/>
<line x1="828" y1="351.89" x2="837.5" y2="351.89" stroke="#000" stroke-width="1.2"/>
<line x1="83" y1="372.67" x2="64" y2="372.67" stroke="#000" stroke-width="1.2"/>
<line x1="828" y1="372.67" x2="847" y2="372.67" stroke="#000" stroke-width="1.2"/>
<line x1="83" y1="393.44" x2="73.5" y2="393.44" stroke="#000" stroke-width="1.2"/>
<line x1="828" y1="393.44" x2="837.5" y2="393.44" stroke="#000" stroke-width="1.2"/>
<line x1="83" y1="414.22" x2="73.5" y2="414.22" stroke="#000" stroke-width="1.2"/>
<line x1="828" y1="414.22" x2="837.5" y2="414.22" stroke="#000" stroke-width="1.2"/>
<line x1="83" y1="435.00" x2="64" y2="435.00" stroke="#000" stroke-width="1.2"/>
<line x1="828" y1="435.00" x2="847" y2="435.00" stroke="#000" stroke-width="1.2"/>
<text x="83.00" y="477.9" text-anchor="middle" font-size="16.3" font-family="Liberation Sans, Arial, sans-serif">30E</text>
<text x="145.08" y="477.9" text-anchor="middle" font-size="16.3" font-family="Liberation Sans, Arial, sans-serif">60E</text>
<text x="207.17" y="477.9" text-anchor="middle" font-size="16.3" font-family="Liberation Sans, Arial, sans-serif">90E</text>
<text x="269.25" y="477.9" text-anchor="middle" font-size="16.3" font-family="Liberation Sans, Arial, sans-serif">120E</text>
<text x="331.33" y="477.9" text-anchor="middle" font-size="16.3" font-family="Liberation Sans, Arial, sans-serif">150E</text>
<text x="393.42" y="477.9" text-anchor="middle" font-size="16.3" font-family="Liberation Sans, Arial, sans-serif">180</text>
<text x="455.50" y="477.9" text-anchor="middle" font-size="16.3" font-family="Liberation Sans, Arial, sans-serif">150W</text>
<text x="517.58" y="477.9" text-anchor="middle" font-size="16.3" font-family="Liberation Sans, Arial, sans-serif">120W</text>
<text x="579.67" y="477.9" text-anchor="middle" font-size="16.3" font-family="Liberation Sans, Arial, sans-serif">90W</text>
<text x="641.75" y="477.9" text-anchor="middle" font-size="16.3" font-family="Liberation Sans, Arial, sans-serif">60W</text>
<text x="703.83" y="477.9" text-anchor="middle" font-size="16.3" font-family="Liberation Sans, Arial, sans-serif">30W</text>
<text x="765.92" y="477.9" text-anchor="middle" font-size="16.3" font-family="Liberation Sans, Arial, sans-serif">0</text>
<text x="828.00" y="477.9" text-anchor="middle" font-size="16.3" font-family="Liberation Sans, Arial, sans-serif">30E</text>
<text x="53.3" y="67.20" text-anchor="end" font-size="16.3" font-family="Liberation Sans, Arial, sans-serif">90N</text>
<text x="53.3" y="129.53" text-anchor="end" font-size="16.3" font-family="Liberation Sans, Arial, sans-serif">60N</text>
<text x="53.3" y="191.87" text-anchor="end" font-size="16.3" font-family="Liberation Sans, Arial, sans-serif">30N</text>
<text x="53.3" y="254.20" text-anchor="end" font-size="16.3" font-family="Liberation Sans, Arial, sans-serif">0</text>
<text x="53.3" y="316.53" text-anchor="end" font-size="16.3" font-family="Liberation Sans, Arial, sans-serif">30S</text>
<text x="53.3" y="378.87" text-anchor="end" font-size="16.3" font-family="Liberation Sans, Arial, sans-serif">60S</text>
<text x="53.3" y="441.20" text-anchor="end" font-size="16.3" font-family="Liberation Sans, Arial, sans-serif">90S</text>
<line x1="83" y1="572.5" x2="83" y2="947.6" stroke="#000" stroke-width="1.2"/>
<line x1="828.5" y1="572.5" x2="828.5" y2="947.6" stroke="#000" stroke-width="1"/>
<line x1="82.4" y1="573.5" x2="829" y2="573.5" stroke="#000" stroke-width="1"/>
<line x1="82.4" y1="947" x2="829" y2="947" stroke="#000" stroke-width="1.2"/>
<line x1="83.00" y1="573" x2="83.00" y2="554" stroke="#000" stroke-width="1.2"/>
<line x1="83.00" y1="947" x2="83.00" y2="966" stroke="#000" stroke-width="1.2"/>
<line x1="103.69" y1="573" x2="103.69" y2="563.5" stroke="#000" stroke-width="1.2"/>
<line x1="103.69" y1="947" x2="103.69" y2="956.5" stroke="#000" stroke-width="1.2"/>
<line x1="124.39" y1="573" x2="124.39" y2="563.5" stroke="#000" stroke-width="1.2"/>
<line x1="124.39" y1="947" x2="124.39" y2="956.5" stroke="#000" stroke-width="1.2"/>
<line x1="145.08" y1="573" x2="145.08" y2="554" stroke="#000" stroke-width="1.2"/>
<line x1="145.08" y1="947" x2="145.08" y2="966" stroke="#000" stroke-width="1.2"/>
<line x1="165.78" y1="573" x2="165.78" y2="563.5" stroke="#000" stroke-width="1.2"/>
<line x1="165.78" y1="947" x2="165.78" y2="956.5" stroke="#000" stroke-width="1.2"/>
<line x1="186.47" y1="573" x2="186.47" y2="563.5" stroke="#000" stroke-width="1.2"/>
<line x1="186.47" y1="947" x2="186.47" y2="956.5" stroke="#000" stroke-width="1.2"/>
<line x1="207.17" y1="573" x2="207.17" y2="554" stroke="#000" stroke-width="1.2"/>
<line x1="207.17" y1="947" x2="207.17" y2="966" stroke="#000" stroke-width="1.2"/>
<line x1="227.86" y1="573" x2="227.86" y2="563.5" stroke="#000" stroke-width="1.2"/>
<line x1="227.86" y1="947" x2="227.86" y2="956.5" stroke="#000" stroke-width="1.2"/>
<line x1="248.56" y1="573" x2="248.56" y2="563.5" stroke="#000" stroke-width="1.2"/>
<line x1="248.56" y1="947" x2="248.56" y2="956.5" stroke="#000" stroke-width="1.2"/>
<line x1="269.25" y1="573" x2="269.25" y2="554" stroke="#000" stroke-width="1.2"/>
<line x1="269.25" y1="947" x2="269.25" y2="966" stroke="#000" stroke-width="1.2"/>
<line x1="289.94" y1="573" x2="289.94" y2="563.5" stroke="#000" stroke-width="1.2"/>
<line x1="289.94" y1="947" x2="289.94" y2="956.5" stroke="#000" stroke-width="1.2"/>
<line x1="310.64" y1="573" x2="310.64" y2="563.5" stroke="#000" stroke-width="1.2"/>
<line x1="310.64" y1="947" x2="310.64" y2="956.5" stroke="#000" stroke-width="1.2"/>
<line x1="331.33" y1="573" x2="331.33" y2="554" stroke="#000" stroke-width="1.2"/>
<line x1="331.33" y1="947" x2="331.33" y2="966" stroke="#000" stroke-width="1.2"/>
<line x1="352.03" y1="573" x2="352.03" y2="563.5" stroke="#000" stroke-width="1.2"/>
<line x1="352.03" y1="947" x2="352.03" y2="956.5" stroke="#000" stroke-width="1.2"/>
<line x1="372.72" y1="573" x2="372.72" y2="563.5" stroke="#000" stroke-width="1.2"/>
<line x1="372.72" y1="947" x2="372.72" y2="956.5" stroke="#000" stroke-width="1.2"/>
<line x1="393.42" y1="573" x2="393.42" y2="554" stroke="#000" stroke-width="1.2"/>
<line x1="393.42" y1="947" x2="393.42" y2="966" stroke="#000" stroke-width="1.2"/>
<line x1="414.11" y1="573" x2="414.11" y2="563.5" stroke="#000" stroke-width="1.2"/>
<line x1="414.11" y1="947" x2="414.11" y2="956.5" stroke="#000" stroke-width="1.2"/>
<line x1="434.81" y1="573" x2="434.81" y2="563.5" stroke="#000" stroke-width="1.2"/>
<line x1="434.81" y1="947" x2="434.81" y2="956.5" stroke="#000" stroke-width="1.2"/>
<line x1="455.50" y1="573" x2="455.50" y2="554" stroke="#000" stroke-width="1.2"/>
<line x1="455.50" y1="947" x2="455.50" y2="966" stroke="#000" stroke-width="1.2"/>
<line x1="476.19" y1="573" x2="476.19" y2="563.5" stroke="#000" stroke-width="1.2"/>
<line x1="476.19" y1="947" x2="476.19" y2="956.5" stroke="#000" stroke-width="1.2"/>
<line x1="496.89" y1="573" x2="496.89" y2="563.5" stroke="#000" stroke-width="1.2"/>
<line x1="496.89" y1="947" x2="496.89" y2="956.5" stroke="#000" stroke-width="1.2"/>
<line x1="517.58" y1="573" x2="517.58" y2="554" stroke="#000" stroke-width="1.2"/>
<line x1="517.58" y1="947" x2="517.58" y2="966" stroke="#000" stroke-width="1.2"/>
<line x1="538.28" y1="573" x2="538.28" y2="563.5" stroke="#000" stroke-width="1.2"/>
<line x1="538.28" y1="947" x2="538.28" y2="956.5" stroke="#000" stroke-width="1.2"/>
<line x1="558.97" y1="573" x2="558.97" y2="563.5" stroke="#000" stroke-width="1.2"/>
<line x1="558.97" y1="947" x2="558.97" y2="956.5" stroke="#000" stroke-width="1.2"/>
<line x1="579.67" y1="573" x2="579.67" y2="554" stroke="#000" stroke-width="1.2"/>
<line x1="579.67" y1="947" x2="579.67" y2="966" stroke="#000" stroke-width="1.2"/>
<line x1="600.36" y1="573" x2="600.36" y2="563.5" stroke="#000" stroke-width="1.2"/>
<line x1="600.36" y1="947" x2="600.36" y2="956.5" stroke="#000" stroke-width="1.2"/>
<line x1="621.06" y1="573" x2="621.06" y2="563.5" stroke="#000" stroke-width="1.2"/>
<line x1="621.06" y1="947" x2="621.06" y2="956.5" stroke="#000" stroke-width="1.2"/>
<line x1="641.75" y1="573" x2="641.75" y2="554" stroke="#000" stroke-width="1.2"/>
<line x1="641.75" y1="947" x2="641.75" y2="966" stroke="#000" stroke-width="1.2"/>
<line x1="662.44" y1="573" x2="662.44" y2="563.5" stroke="#000" stroke-width="1.2"/>
<line x1="662.44" y1="947" x2="662.44" y2="956.5" stroke="#000" stroke-width="1.2"/>
<line x1="683.14" y1="573" x2="683.14" y2="563.5" stroke="#000" stroke-width="1.2"/>
<line x1="683.14" y1="947" x2="683.14" y2="956.5" stroke="#000" stroke-width="1.2"/>
<line x1="703.83" y1="573" x2="703.83" y2="554" stroke="#000" stroke-width="1.2"/>
<line x1="703.83" y1="947" x2="703.83" y2="966" stroke="#000" stroke-width="1.2"/>
<line x1="724.53" y1="573" x2="724.53" y2="563.5" stroke="#000" stroke-width="1.2"/>
<line x1="724.53" y1="947" x2="724.53" y2="956.5" stroke="#000" stroke-width="1.2"/>
<line x1="745.22" y1="573" x2="745.22" y2="563.5" stroke="#000" stroke-width="1.2"/>
<line x1="745.22" y1="947" x2="745.22" y2="956.5" stroke="#000" stroke-width="1.2"/>
<line x1="765.92" y1="573" x2="765.92" y2="554" stroke="#000" stroke-width="1.2"/>
<line x1="765.92" y1="947" x2="765.92" y2="966" stroke="#000" stroke-width="1.2"/>
<line x1="786.61" y1="573" x2="786.61" y2="563.5" stroke="#000" stroke-width="1.2"/>
<line x1="786.61" y1="947" x2="786.61" y2="956.5" stroke="#000" stroke-width="1.2"/>
<line x1="807.31" y1="573" x2="807.31" y2="563.5" stroke="#000" stroke-width="1.2"/>
<line x1="807.31" y1="947" x2="807.31" y2="956.5" stroke="#000" stroke-width="1.2"/>
<line x1="828.00" y1="573" x2="828.00" y2="554" stroke="#000" stroke-width="1.2"/>
<line x1="828.00" y1="947" x2="828.00" y2="966" stroke="#000" stroke-width="1.2"/>
<line x1="83" y1="573.00" x2="64" y2="573.00" stroke="#000" stroke-width="1.2"/>
<line x1="828" y1="573.00" x2="847" y2="573.00" stroke="#000" stroke-width="1.2"/>
<line x1="83" y1="593.78" x2="73.5" y2="593.78" stroke="#000" stroke-width="1.2"/>
<line x1="828" y1="593.78" x2="837.5" y2="593.78" stroke="#000" stroke-width="1.2"/>
<line x1="83" y1="614.56" x2="73.5" y2="614.56" stroke="#000" stroke-width="1.2"/>
<line x1="828" y1="614.56" x2="837.5" y2="614.56" stroke="#000" stroke-width="1.2"/>
<line x1="83" y1="635.33" x2="64" y2="635.33" stroke="#000" stroke-width="1.2"/>
<line x1="828" y1="635.33" x2="847" y2="635.33" stroke="#000" stroke-width="1.2"/>
<line x1="83" y1="656.11" x2="73.5" y2="656.11" stroke="#000" stroke-width="1.2"/>
<line x1="828" y1="656.11" x2="837.5" y2="656.11" stroke="#000" stroke-width="1.2"/>
<line x1="83" y1="676.89" x2="73.5" y2="676.89" stroke="#000" stroke-width="1.2"/>
<line x1="828" y1="676.89" x2="837.5" y2="676.89" stroke="#000" stroke-width="1.2"/>
<line x1="83" y1="697.67" x2="64" y2="697.67" stroke="#000" stroke-width="1.2"/>
<line x1="828" y1="697.67" x2="847" y2="697.67" stroke="#000" stroke-width="1.2"/>
<line x1="83" y1="718.44" x2="73.5" y2="718.44" stroke="#000" stroke-width="1.2"/>
<line x1="828" y1="718.44" x2="837.5" y2="718.44" stroke="#000" stroke-width="1.2"/>
<line x1="83" y1="739.22" x2="73.5" y2="739.22" stroke="#000" stroke-width="1.2"/>
<line x1="828" y1="739.22" x2="837.5" y2="739.22" stroke="#000" stroke-width="1.2"/>
<line x1="83" y1="760.00" x2="64" y2="760.00" stroke="#000" stroke-width="1.2"/>
<line x1="828" y1="760.00" x2="847" y2="760.00" stroke="#000" stroke-width="1.2"/>
<line x1="83" y1="780.78" x2="73.5" y2="780.78" stroke="#000" stroke-width="1.2"/>
<line x1="828" y1="780.78" x2="837.5" y2="780.78" stroke="#000" stroke-width="1.2"/>
<line x1="83" y1="801.56" x2="73.5" y2="801.56" stroke="#000" stroke-width="1.2"/>
<line x1="828" y1="801.56" x2="837.5" y2="801.56" stroke="#000" stroke-width="1.2"/>
<line x1="83" y1="822.33" x2="64" y2="822.33" stroke="#000" stroke-width="1.2"/>
<line x1="828" y1="822.33" x2="847" y2="822.33" stroke="#000" stroke-width="1.2"/>
<line x1="83" y1="843.11" x2="73.5" y2="843.11" stroke="#000" stroke-width="1.2"/>
<line x1="828" y1="843.11" x2="837.5" y2="843.11" stroke="#000" stroke-width="1.2"/>
<line x1="83" y1="863.89" x2="73.5" y2="863.89" stroke="#000" stroke-width="1.2"/>
<line x1="828" y1="863.89" x2="837.5" y2="863.89" stroke="#000" stroke-width="1.2"/>
<line x1="83" y1="884.67" x2="64" y2="884.67" stroke="#000" stroke-width="1.2"/>
<line x1="828" y1="884.67" x2="847" y2="884.67" stroke="#000" stroke-width="1.2"/>
<line x1="83" y1="905.44" x2="73.5" y2="905.44" stroke="#000" stroke-width="1.2"/>
<line x1="828" y1="905.44" x2="837.5" y2="905.44" stroke="#000" stroke-width="1.2"/>
<line x1="83" y1="926.22" x2="73.5" y2="926.22" stroke="#000" stroke-width="1.2"/>
<line x1="828" y1="926.22" x2="837.5" y2="926.22" stroke="#000" stroke-width="1.2"/>
<line x1="83" y1="947.00" x2="64" y2="947.00" stroke="#000" stroke-width="1.2"/>
<line x1="828" y1="947.00" x2="847" y2="947.00" stroke="#000" stroke-width="1.2"/>
<text x="83.00" y="989.9" text-anchor="middle" font-size="16.3" font-family="Liberation Sans, Arial, sans-serif">30E</text>
<text x="145.08" y="989.9" text-anchor="middle" font-size="16.3" font-family="Liberation Sans, Arial, sans-serif">60E</text>
<text x="207.17" y="989.9" text-anchor="middle" font-size="16.3" font-family="Liberation Sans, Arial, sans-serif">90E</text>
<text x="269.25" y="989.9" text-anchor="middle" font-size="16.3" font-family="Liberation Sans, Arial, sans-serif">120E</text>
<text x="331.33" y="989.9" text-anchor="middle" font-size="16.3" font-family="Liberation Sans, Arial, sans-serif">150E</text>
<text x="393.42" y="989.9" text-anchor="middle" font-size="16.3" font-family="Liberation Sans, Arial, sans-serif">180</text>
<text x="455.50" y="989.9" text-anchor="middle" font-size="16.3" font-family="Liberation Sans, Arial, sans-serif">150W</text>
<text x="517.58" y="989.9" text-anchor="middle" font-size="16.3" font-family="Liberation Sans, Arial, sans-serif">120W</text>
<text x="579.67" y="989.9" text-anchor="middle" font-size="16.3" font-family="Liberation Sans, Arial, sans-serif">90W</text>
<text x="641.75" y="989.9" text-anchor="middle" font-size="16.3" font-family="Liberation Sans, Arial, sans-serif">60W</text>
<text x="703.83" y="989.9" text-anchor="middle" font-size="16.3" font-family="Liberation Sans, Arial, sans-serif">30W</text>
<text x="765.92" y="989.9" text-anchor="middle" font-size="16.3" font-family="Liberation Sans, Arial, sans-serif">0</text>
<text x="828.00" y="989.9" text-anchor="middle" font-size="16.3" font-family="Liberation Sans, Arial, sans-serif">30E</text>
<text x="53.3" y="579.20" text-anchor="end" font-size="16.3" font-family="Liberation Sans, Arial, sans-serif">90N</text>
<text x="53.3" y="641.53" text-anchor="end" font-size="16.3" font-family="Liberation Sans, Arial, sans-serif">60N</text>
<text x="53.3" y="703.87" text-anchor="end" font-size="16.3" font-family="Liberation Sans, Arial, sans-serif">30N</text>
<text x="53.3" y="766.20" text-anchor="end" font-size="16.3" font-family="Liberation Sans, Arial, sans-serif">0</text>
<text x="53.3" y="828.53" text-anchor="end" font-size="16.3" font-family="Liberation Sans, Arial, sans-serif">30S</text>
<text x="53.3" y="890.87" text-anchor="end" font-size="16.3" font-family="Liberation Sans, Arial, sans-serif">60S</text>
<text x="53.3" y="953.20" text-anchor="end" font-size="16.3" font-family="Liberation Sans, Arial, sans-serif">90S</text>
<rect x="881" y="77.10" width="44" height="17.08" fill="#C00000"/>
<rect x="881" y="94.18" width="44" height="17.08" fill="#DF0000"/>
<rect x="881" y="111.26" width="44" height="17.08" fill="#FF1E00"/>
<rect x="881" y="128.34" width="44" height="17.08" fill="#F58200"/>
<rect x="881" y="145.42" width="44" height="17.08" fill="#F99323"/>
<rect x="881" y="162.50" width="44" height="17.08" fill="#FBA632"/>
<rect x="881" y="179.58" width="44" height="17.08" fill="#FFD22E"/>
<rect x="881" y="196.66" width="44" height="17.08" fill="#FFFF00"/>
<rect x="881" y="213.74" width="44" height="17.08" fill="#4BFF00"/>
<rect x="881" y="230.82" width="44" height="17.08" fill="#00FF5A"/>
<rect x="881" y="247.90" width="44" height="17.08" fill="#00FFDA"/>
<rect x="881" y="264.98" width="44" height="17.08" fill="#00FFFF"/>
<rect x="881" y="282.06" width="44" height="17.08" fill="#1EE6FF"/>
<rect x="881" y="299.14" width="44" height="17.08" fill="#00BFFF"/>
<rect x="881" y="316.22" width="44" height="17.08" fill="#0A82FF"/>
<rect x="881" y="333.30" width="44" height="17.08" fill="#0000FA"/>
<rect x="881" y="350.38" width="44" height="17.08" fill="#8200DC"/>
<rect x="881" y="367.46" width="44" height="17.08" fill="#E100E1"/>
<rect x="881" y="384.54" width="44" height="17.08" fill="#D2D2D2"/>
<rect x="881" y="401.62" width="44" height="17.08" fill="#6E6E6E"/>
<line x1="881" y1="94.18" x2="925" y2="94.18" stroke="#000" stroke-width="1"/>
<line x1="881" y1="111.26" x2="925" y2="111.26" stroke="#000" stroke-width="1"/>
<line x1="881" y1="128.34" x2="925" y2="128.34" stroke="#000" stroke-width="1"/>
<line x1="881" y1="145.42" x2="925" y2="145.42" stroke="#000" stroke-width="1"/>
<line x1="881" y1="162.50" x2="925" y2="162.50" stroke="#000" stroke-width="1"/>
<line x1="881" y1="179.58" x2="925" y2="179.58" stroke="#000" stroke-width="1"/>
<line x1="881" y1="196.66" x2="925" y2="196.66" stroke="#000" stroke-width="1"/>
<line x1="881" y1="213.74" x2="925" y2="213.74" stroke="#000" stroke-width="1"/>
<line x1="881" y1="230.82" x2="925" y2="230.82" stroke="#000" stroke-width="1"/>
<line x1="881" y1="247.90" x2="925" y2="247.90" stroke="#000" stroke-width="1"/>
<line x1="881" y1="264.98" x2="925" y2="264.98" stroke="#000" stroke-width="1"/>
<line x1="881" y1="282.06" x2="925" y2="282.06" stroke="#000" stroke-width="1"/>
<line x1="881" y1="299.14" x2="925" y2="299.14" stroke="#000" stroke-width="1"/>
<line x1="881" y1="316.22" x2="925" y2="316.22" stroke="#000" stroke-width="1"/>
<line x1="881" y1="333.30" x2="925" y2="333.30" stroke="#000" stroke-width="1"/>
<line x1="881" y1="350.38" x2="925" y2="350.38" stroke="#000" stroke-width="1"/>
<line x1="881" y1="367.46" x2="925" y2="367.46" stroke="#000" stroke-width="1"/>
<line x1="881" y1="384.54" x2="925" y2="384.54" stroke="#000" stroke-width="1"/>
<line x1="881" y1="401.62" x2="925" y2="401.62" stroke="#000" stroke-width="1"/>
<rect x="881" y="77.10" width="44" height="341.60" fill="none" stroke="#555" stroke-width="1"/>
<text x="953.5" y="82.90" text-anchor="middle" font-size="16.3" font-family="Liberation Sans, Arial, sans-serif">37</text>
<text x="953.5" y="134.14" text-anchor="middle" font-size="16.3" font-family="Liberation Sans, Arial, sans-serif">36.4</text>
<text x="953.5" y="168.30" text-anchor="middle" font-size="16.3" font-family="Liberation Sans, Arial, sans-serif">36</text>
<text x="953.5" y="202.46" text-anchor="middle" font-size="16.3" font-family="Liberation Sans, Arial, sans-serif">35.6</text>
<text x="953.5" y="236.62" text-anchor="middle" font-size="16.3" font-family="Liberation Sans, Arial, sans-serif">35.2</text>
<text x="953.5" y="270.78" text-anchor="middle" font-size="16.3" font-family="Liberation Sans, Arial, sans-serif">34.8</text>
<text x="953.5" y="304.94" text-anchor="middle" font-size="16.3" font-family="Liberation Sans, Arial, sans-serif">34.4</text>
<text x="953.5" y="339.10" text-anchor="middle" font-size="16.3" font-family="Liberation Sans, Arial, sans-serif">34</text>
<text x="953.5" y="373.26" text-anchor="middle" font-size="16.3" font-family="Liberation Sans, Arial, sans-serif">33.6</text>
<text x="953.5" y="424.50" text-anchor="middle" font-size="16.3" font-family="Liberation Sans, Arial, sans-serif">33</text>
<rect x="881" y="589.10" width="44" height="17.08" fill="#C00000"/>
<rect x="881" y="606.18" width="44" height="17.08" fill="#DF0000"/>
<rect x="881" y="623.26" width="44" height="17.08" fill="#FF1E00"/>
<rect x="881" y="640.34" width="44" height="17.08" fill="#F58200"/>
<rect x="881" y="657.42" width="44" height="17.08" fill="#F99323"/>
<rect x="881" y="674.50" width="44" height="17.08" fill="#FBA632"/>
<rect x="881" y="691.58" width="44" height="17.08" fill="#FFD22E"/>
<rect x="881" y="708.66" width="44" height="17.08" fill="#FFFF00"/>
<rect x="881" y="725.74" width="44" height="17.08" fill="#4BFF00"/>
<rect x="881" y="742.82" width="44" height="17.08" fill="#00FF5A"/>
<rect x="881" y="759.90" width="44" height="17.08" fill="#00FFDA"/>
<rect x="881" y="776.98" width="44" height="17.08" fill="#00FFFF"/>
<rect x="881" y="794.06" width="44" height="17.08" fill="#1EE6FF"/>
<rect x="881" y="811.14" width="44" height="17.08" fill="#00BFFF"/>
<rect x="881" y="828.22" width="44" height="17.08" fill="#0A82FF"/>
<rect x="881" y="845.30" width="44" height="17.08" fill="#0000FA"/>
<rect x="881" y="862.38" width="44" height="17.08" fill="#8200DC"/>
<rect x="881" y="879.46" width="44" height="17.08" fill="#E100E1"/>
<rect x="881" y="896.54" width="44" height="17.08" fill="#D2D2D2"/>
<rect x="881" y="913.62" width="44" height="17.08" fill="#6E6E6E"/>
<line x1="881" y1="606.18" x2="925" y2="606.18" stroke="#000" stroke-width="1"/>
<line x1="881" y1="623.26" x2="925" y2="623.26" stroke="#000" stroke-width="1"/>
<line x1="881" y1="640.34" x2="925" y2="640.34" stroke="#000" stroke-width="1"/>
<line x1="881" y1="657.42" x2="925" y2="657.42" stroke="#000" stroke-width="1"/>
<line x1="881" y1="674.50" x2="925" y2="674.50" stroke="#000" stroke-width="1"/>
<line x1="881" y1="691.58" x2="925" y2="691.58" stroke="#000" stroke-width="1"/>
<line x1="881" y1="708.66" x2="925" y2="708.66" stroke="#000" stroke-width="1"/>
<line x1="881" y1="725.74" x2="925" y2="725.74" stroke="#000" stroke-width="1"/>
<line x1="881" y1="742.82" x2="925" y2="742.82" stroke="#000" stroke-width="1"/>
<line x1="881" y1="759.90" x2="925" y2="759.90" stroke="#000" stroke-width="1"/>
<line x1="881" y1="776.98" x2="925" y2="776.98" stroke="#000" stroke-width="1"/>
<line x1="881" y1="794.06" x2="925" y2="794.06" stroke="#000" stroke-width="1"/>
<line x1="881" y1="811.14" x2="925" y2="811.14" stroke="#000" stroke-width="1"/>
<line x1="881" y1="828.22" x2="925" y2="828.22" stroke="#000" stroke-width="1"/>
<line x1="881" y1="845.30" x2="925" y2="845.30" stroke="#000" stroke-width="1"/>
<line x1="881" y1="862.38" x2="925" y2="862.38" stroke="#000" stroke-width="1"/>
<line x1="881" y1="879.46" x2="925" y2="879.46" stroke="#000" stroke-width="1"/>
<line x1="881" y1="896.54" x2="925" y2="896.54" stroke="#000" stroke-width="1"/>
<line x1="881" y1="913.62" x2="925" y2="913.62" stroke="#000" stroke-width="1"/>
<rect x="881" y="589.10" width="44" height="341.60" fill="none" stroke="#555" stroke-width="1"/>
<text x="953.5" y="594.90" text-anchor="middle" font-size="16.3" font-family="Liberation Sans, Arial, sans-serif">0.8</text>
<text x="953.5" y="629.06" text-anchor="middle" font-size="16.3" font-family="Liberation Sans, Arial, sans-serif">0.64</text>
<text x="953.5" y="663.22" text-anchor="middle" font-size="16.3" font-family="Liberation Sans, Arial, sans-serif">0.48</text>
<text x="953.5" y="697.38" text-anchor="middle" font-size="16.3" font-family="Liberation Sans, Arial, sans-serif">0.32</text>
<text x="953.5" y="731.54" text-anchor="middle" font-size="16.3" font-family="Liberation Sans, Arial, sans-serif">0.16</text>
<text x="953.5" y="765.70" text-anchor="middle" font-size="16.3" font-family="Liberation Sans, Arial, sans-serif">0</text>
<text x="953.5" y="799.86" text-anchor="middle" font-size="16.3" font-family="Liberation Sans, Arial, sans-serif">-0.16</text>
<text x="953.5" y="834.02" text-anchor="middle" font-size="16.3" font-family="Liberation Sans, Arial, sans-serif">-0.32</text>
<text x="953.5" y="868.18" text-anchor="middle" font-size="16.3" font-family="Liberation Sans, Arial, sans-serif">-0.48</text>
<text x="953.5" y="902.34" text-anchor="middle" font-size="16.3" font-family="Liberation Sans, Arial, sans-serif">-0.64</text>
<text x="953.5" y="936.50" text-anchor="middle" font-size="16.3" font-family="Liberation Sans, Arial, sans-serif">-0.8</text>
<text transform="translate(82.4,38.1) scale(1,1.07)" font-size="20.5" font-family="Liberation Sans, Arial, sans-serif">SALINITY at z=3379.8m, b.e21.BHIST.f09_g17.CMIP6-historical.010 [1971-2000]</text>
<text x="722.7" y="19.5" font-size="20.5" font-family="Liberation Sans, Arial, sans-serif">mean = 34.85</text>
<text x="722.7" y="41.8" font-size="20.5" font-family="Liberation Sans, Arial, sans-serif">rms = 34.85</text>
<text transform="translate(82.4,549.8) scale(1,1.07)" font-size="20.5" font-family="Liberation Sans, Arial, sans-serif">(MODEL - LEVITUS/PHC2)</text>
<text x="711" y="531.5" font-size="20.5" font-family="Liberation Sans, Arial, sans-serif">mean = 0.1079</text>
<text x="711" y="553.4" font-size="20.5" font-family="Liberation Sans, Arial, sans-serif">rms = 0.1362</text>
<rect x="330.5" y="483.7" width="250" height="22.9" fill="#fff" stroke="#777" stroke-width="1"/>
<text x="334.3" y="500" font-size="16.35" font-family="Liberation Sans, Arial, sans-serif">33.53 to 41.6 by .2 gram/kilogram</text>
<rect x="314" y="996.2" width="283" height="22.6" fill="#fff" stroke="#777" stroke-width="1"/>
<text x="317.8" y="1011.8" font-size="16.4" font-family="Liberation Sans, Arial, sans-serif">-.5623 to 2.9565 by .08 gram/kilogram</text>
</svg>
</body></html>
